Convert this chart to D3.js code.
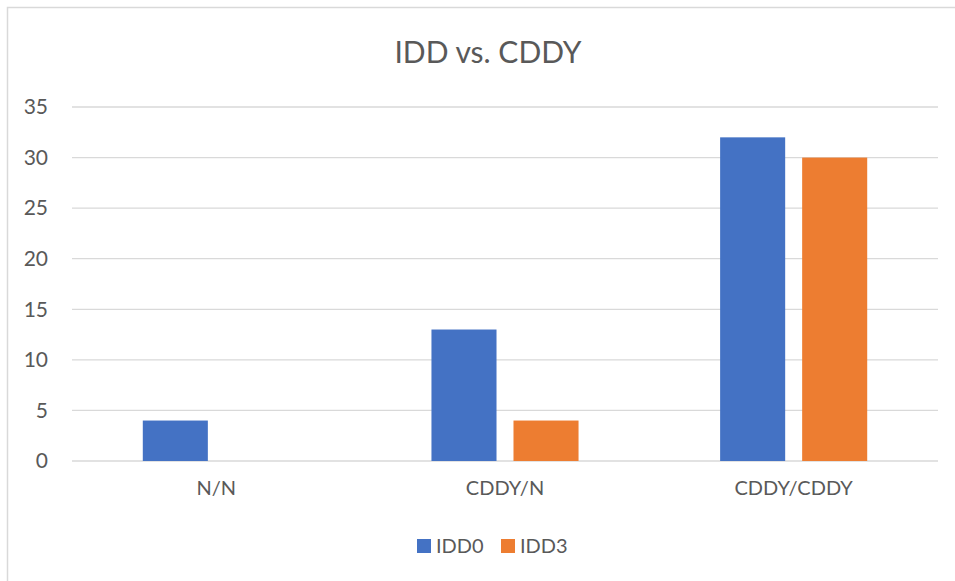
<!DOCTYPE html>
<html>
<head>
<meta charset="utf-8">
<script src="https://cdn.jsdelivr.net/npm/d3@7"></script>
<style>
  body { margin: 0; background: #fff; }
  text { font-family: Lato, "Open Sans", sans-serif; fill: #595959; }
</style>
</head>
<body>
<div class="chart"></div>
<script>
//Data
const categories = ["N/N", "CDDY/N", "CDDY/CDDY"];
const seriesNames = ["IDD0", "IDD3"];
const idd0 = [4, 13, 32];
const idd3 = [0, 4, 30];
const yTicks = [0, 5, 10, 15, 20, 25, 30, 35];
const colors = ["#4472C4", "#ED7D31"];

const width = 955;
const height = 581;

const svg = d3.select(".chart").append("svg")
  .attr("width", width)
  .attr("height", height);

//Chart border (cut off on the right and bottom)
svg.append("rect")
  .attr("x", 7.5).attr("y", 7.5)
  .attr("width", 960).attr("height", 600)
  .attr("fill", "#fff")
  .attr("stroke", "#D9D9D9")
  .attr("stroke-width", 1.5);

//Scales
const x0 = d3.scaleBand().domain(categories).range([72, 938]).padding(0);
const x1 = d3.scaleBand().domain(seriesNames)
  .range([0, x0.bandwidth()])
  .paddingInner(0.207)
  .paddingOuter(0.863);
const y = d3.scaleLinear().domain([0, 35]).range([461, 107]);

//Gridlines
svg.append("g").selectAll("line").data(yTicks).join("line")
  .attr("x1", 72).attr("x2", 938)
  .attr("y1", d => y(d)).attr("y2", d => y(d))
  .attr("stroke", "#D9D9D9")
  .attr("stroke-width", 1.3);

//Y axis labels
const yaxis = d3.axisLeft(y).tickValues(yTicks).tickSize(0).tickPadding(0);
const g_yaxis = svg.append("g")
  .attr("transform", "translate(48,0)")
  .call(yaxis);
g_yaxis.select(".domain").remove();
g_yaxis.selectAll("text")
  .attr("font-size", 21)
  .attr("font-family", null)
  .style("fill", "#595959");

//X axis labels
const xaxis = d3.axisBottom(x0).tickSize(0).tickPadding(0);
const g_xaxis = svg.append("g")
  .attr("transform", "translate(0,481)")
  .call(xaxis);
g_xaxis.select(".domain").remove();
g_xaxis.selectAll("text")
  .attr("font-size", 20)
  .attr("font-family", null)
  .style("fill", "#595959");

//Bars
const rows = categories.map((c, i) => ({ cat: c, values: [idd0[i], idd3[i]] }));
svg.append("g").selectAll("g").data(rows).join("g")
  .attr("transform", d => `translate(${x0(d.cat)},0)`)
  .selectAll("rect")
  .data(d => d.values.map((v, j) => ({ name: seriesNames[j], value: v, j })))
  .join("rect")
    .attr("x", d => x1(d.name))
    .attr("width", x1.bandwidth())
    .attr("y", d => y(d.value))
    .attr("height", d => y(0) - y(d.value))
    .attr("fill", d => colors[d.j]);

//Title
svg.append("text")
  .attr("x", 488)
  .attr("y", 63)
  .attr("text-anchor", "middle")
  .attr("font-size", 30)
  .text("IDD vs. CDDY");

//Legend
const legendX = [417, 501];
const legend = svg.append("g").selectAll("g").data(seriesNames).join("g")
  .attr("transform", (d, i) => `translate(${legendX[i]},539)`);
legend.append("rect")
  .attr("width", 14).attr("height", 14)
  .attr("fill", (d, i) => colors[i]);
legend.append("text")
  .attr("x", 19).attr("y", 14)
  .attr("font-size", 20)
  .text(d => d);
</script>
</body>
</html>
